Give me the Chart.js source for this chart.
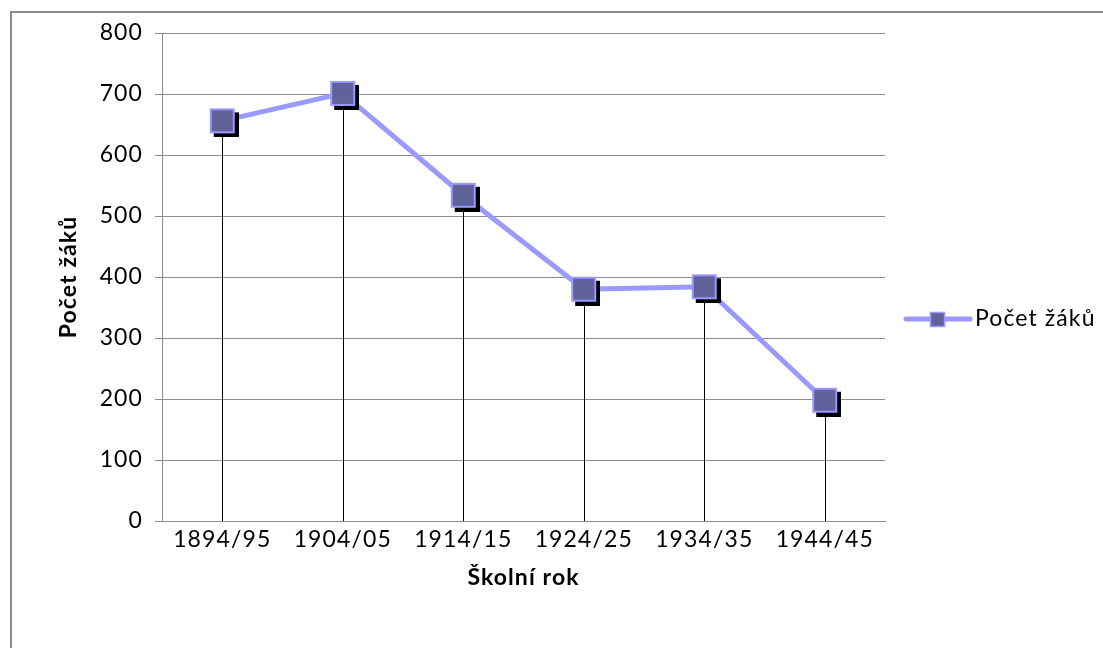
<!DOCTYPE html>
<html>
<head>
<meta charset="utf-8">
<script src="https://cdn.jsdelivr.net/npm/chart.js@4"></script>
<style>
  html, body { margin: 0; padding: 0; background: #fff; overflow: hidden; }
  #ramecek { position: absolute; left: 10px; top: 11px; width: 1200px; height: 700px; border: 2px solid #8c8c8c; box-sizing: border-box; }
  #obal { position: absolute; left: 0; top: 0; width: 1103px; height: 648px; }
</style>
</head>
<body>
<div id="ramecek"></div>
<div id="obal"><canvas id="graf" width="1103" height="648"></canvas></div>
<script>
// data
const skolniRoky = ['1894/95', '1904/05', '1914/15', '1924/25', '1934/35', '1944/45'];
const pocetZaku = [656, 701, 534, 380, 384, 198];
const osaYMin = 0;
const osaYMax = 800;
const osaYKrok = 100;
const nazevOsyX = 'Školní rok';
const nazevOsyY = 'Počet žáků';
const nazevRady = 'Počet žáků';

const barvaCary = '#9999ff';
const barvaZnacky = '#62629a';
const pismo = 'Lato';
const velikost = 23;
const prolozeni = '1.1px';

// ctvercova znacka se stinem (jako v Excelu)
function znackaSeStinem() {
  const s = 25, o = 4;
  const c = document.createElement('canvas');
  c.width = c.height = s + 2 * o;
  const g = c.getContext('2d');
  g.fillStyle = '#000';
  g.fillRect(2 * o, 2 * o, s, s);
  g.fillStyle = barvaZnacky;
  g.fillRect(o, o, s, s);
  g.strokeStyle = barvaCary;
  g.lineWidth = 2;
  g.strokeRect(o + 1, o + 1, s - 2, s - 2);
  return c;
}

// prolozeni pismen
const rozpal = {
  id: 'rozpal',
  beforeLayout(chart) { chart.ctx.letterSpacing = prolozeni; },
  beforeDraw(chart) { chart.ctx.letterSpacing = prolozeni; }
};

// svisle spojnice k ose
const spojnice = {
  id: 'spojnice',
  beforeDatasetsDraw(chart) {
    const ctx = chart.ctx;
    const dole = chart.scales.y.bottom;
    ctx.save();
    ctx.strokeStyle = '#000';
    ctx.lineWidth = 1;
    chart.getDatasetMeta(0).data.forEach(b => {
      const px = Math.round(b.x) + 0.5;
      ctx.beginPath();
      ctx.moveTo(px, b.y);
      ctx.lineTo(px, dole);
      ctx.stroke();
    });
    ctx.restore();
  }
};

// legenda vpravo
const legenda = {
  id: 'legenda',
  afterDraw(chart) {
    const ctx = chart.ctx;
    const x0 = chart.chartArea.right + 21;
    const y0 = 319;
    ctx.save();
    ctx.strokeStyle = barvaCary;
    ctx.lineWidth = 5;
    ctx.lineCap = 'round';
    ctx.beginPath();
    ctx.moveTo(x0, y0);
    ctx.lineTo(x0 + 64, y0);
    ctx.stroke();
    ctx.fillStyle = barvaZnacky;
    ctx.fillRect(x0 + 24, y0 - 7, 15, 15);
    ctx.lineWidth = 1.5;
    ctx.strokeRect(x0 + 24.5, y0 - 6.5, 14, 14);
    ctx.letterSpacing = prolozeni;
    ctx.fillStyle = '#000';
    ctx.font = velikost + 'px ' + pismo;
    ctx.textBaseline = 'middle';
    ctx.fillText(chart.data.datasets[0].label, x0 + 69, y0);
    ctx.restore();
  }
};

const znacka = znackaSeStinem();

new Chart(document.getElementById('graf'), {
  type: 'line',
  data: {
    labels: skolniRoky,
    datasets: [{
      label: nazevRady,
      data: pocetZaku,
      borderColor: barvaCary,
      borderWidth: 5,
      pointStyle: znacka,
      pointRadius: 16,
      pointHoverRadius: 16,
      tension: 0,
      fill: false
    }]
  },
  options: {
    responsive: false,
    animation: false,
    layout: { padding: { left: 51, top: 33, right: 218, bottom: 53 } },
    plugins: {
      legend: { display: false },
      tooltip: { enabled: false }
    },
    scales: {
      x: {
        offset: true,
        grid: { display: false, drawTicks: false },
        border: { display: true, color: '#8c8c8c', width: 1 },
        ticks: { color: '#000', font: { family: pismo, size: velikost }, padding: 5, maxRotation: 0 },
        title: { display: true, text: nazevOsyX, color: '#000', font: { family: pismo, size: velikost, weight: 'bold' }, padding: { top: 4, bottom: 4 } },
        afterFit(scale) { scale.height = 74; }
      },
      y: {
        min: osaYMin,
        max: osaYMax,
        grid: { color: '#8c8c8c', lineWidth: 1, tickLength: 7 },
        border: { display: true, color: '#8c8c8c', width: 1 },
        ticks: { stepSize: osaYKrok, color: '#000', font: { family: pismo, size: velikost }, padding: 12 },
        title: { display: true, text: nazevOsyY, color: '#000', font: { family: pismo, size: velikost, weight: 'bold' }, padding: { top: 4, bottom: 4 } },
        afterFit(scale) { scale.width = 111; }
      }
    }
  },
  plugins: [rozpal, spojnice, legenda]
});
</script>
</body>
</html>
